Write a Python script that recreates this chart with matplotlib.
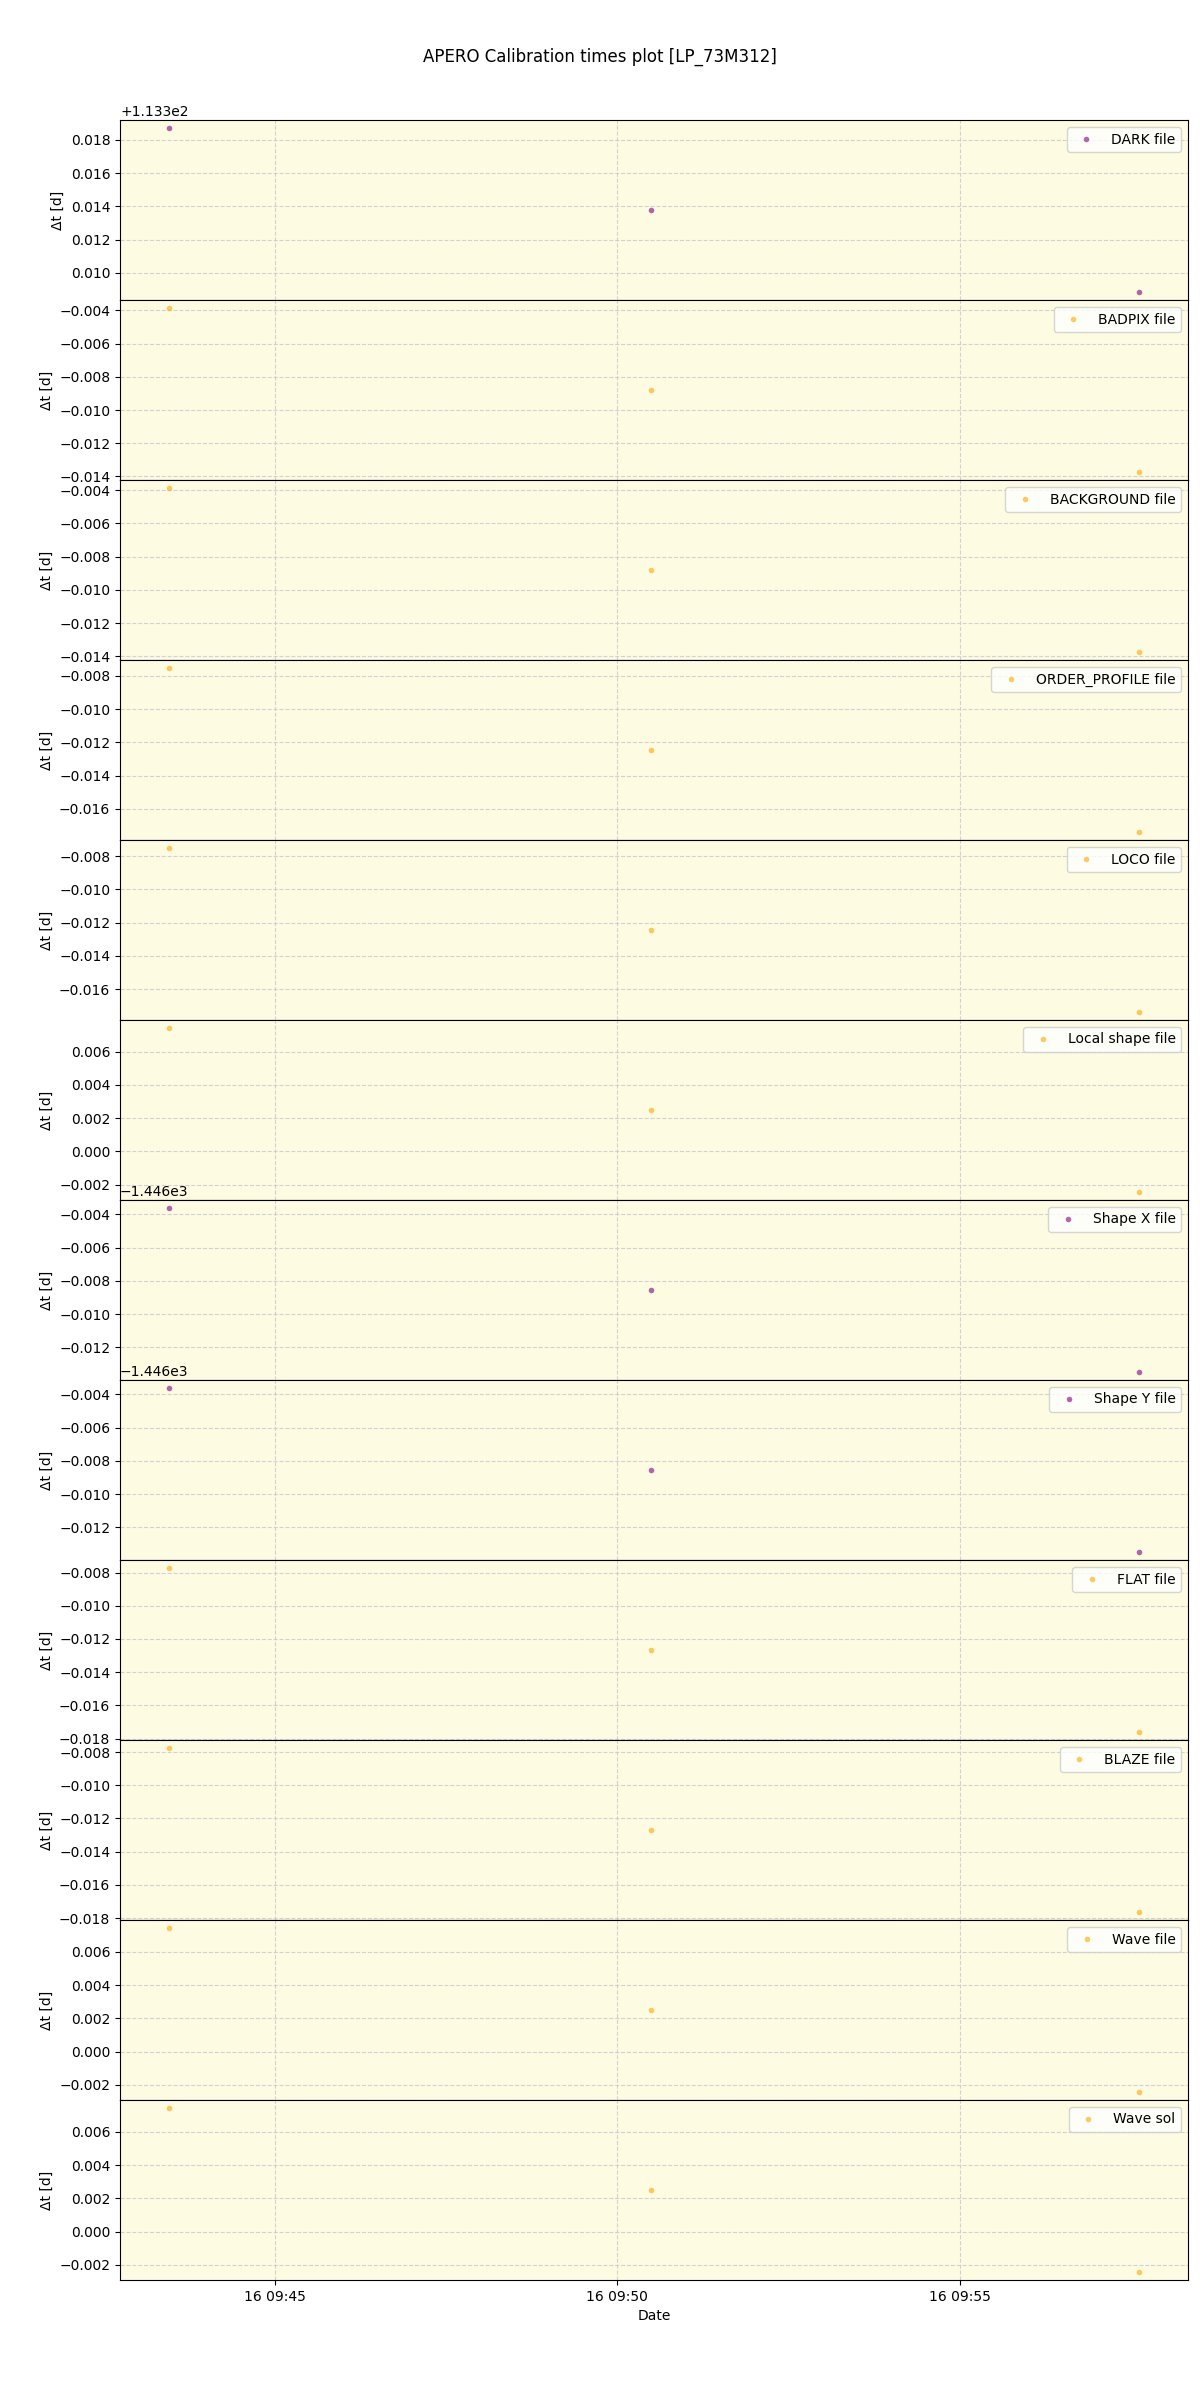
import datetime as dt
import matplotlib
matplotlib.use("Agg")
import matplotlib.pyplot as plt

# observation times (same for every calibration)
times = [dt.datetime(2023, 5, 16, 9, 43, 27),
         dt.datetime(2023, 5, 16, 9, 50, 29, 500000),
         dt.datetime(2023, 5, 16, 9, 57, 37, 600000)]

labels = ["DARK file", "BADPIX file", "BACKGROUND file", "ORDER_PROFILE file",
          "LOCO file", "Local shape file", "Shape X file", "Shape Y file",
          "FLAT file", "BLAZE file", "Wave file", "Wave sol"]

dark = [113.31871, 113.31381, 113.30886]
badpix = [-0.00387, -0.00877, -0.01372]
background = [-0.00388, -0.00878, -0.01373]
order_profile = [-0.00753, -0.01243, -0.01738]
loco = [-0.00752, -0.01242, -0.01737]
local_shape = [0.00742, 0.00252, -0.00243]
shape_x = [-1446.00362, -1446.00852, -1446.01347]
shape_y = [-1446.00362, -1446.00852, -1446.01347]
flat = [-0.00774, -0.01264, -0.01759]
blaze = [-0.00777, -0.01267, -0.01762]
wave_file = [0.00743, 0.00253, -0.00242]
wave_sol = [0.00743, 0.00253, -0.00242]

series = [dark, badpix, background, order_profile, loco, local_shape,
          shape_x, shape_y, flat, blaze, wave_file, wave_sol]
colours = ["purple", "orange", "orange", "orange", "orange", "orange",
           "purple", "purple", "orange", "orange", "orange", "orange"]

fig, axes = plt.subplots(len(series), 1, figsize=(12, 24), dpi=100, sharex=True)
fig.subplots_adjust(left=0.1, right=0.99, top=0.95, bottom=0.05, hspace=0)

for ax, yvals, lab, col in zip(axes, series, labels, colours):
    ax.set_facecolor("#fdfbe2")
    ax.plot(times, yvals, "o", color=col, alpha=0.6, markersize=4,
            markeredgewidth=0, label=lab)
    ax.grid(True, linestyle="--", color="#c8c8d0", alpha=0.8)
    ax.set_ylabel("Δt [d]")
    ax.legend(loc="upper right")

axes[-1].set_xlabel("Date")
fig.suptitle("APERO Calibration times plot [LP_73M312]")

fig.savefig("out.png")
